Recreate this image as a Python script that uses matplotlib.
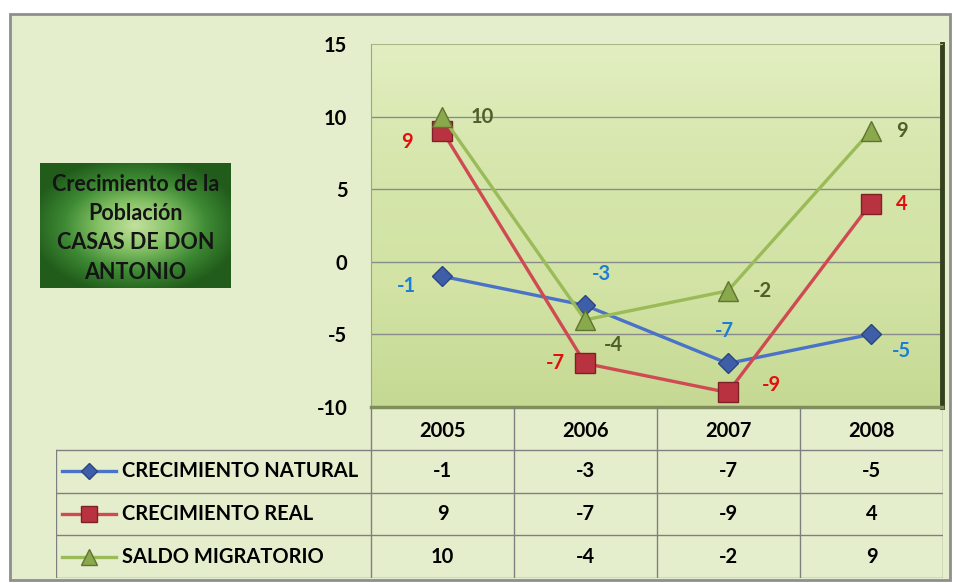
import numpy as np
import matplotlib.pyplot as plt
from matplotlib.patches import Rectangle
from matplotlib.colors import LinearSegmentedColormap

years = ['2005', '2006', '2007', '2008']
series_names = ['CRECIMIENTO NATURAL', 'CRECIMIENTO REAL', 'SALDO MIGRATORIO']
natural = [-1, -3, -7, -5]
real = [9, -7, -9, 4]
migratorio = [10, -4, -2, 9]
y_ticks = [-10, -5, 0, 5, 10, 15]
title_lines = ['Crecimiento de la', 'Población', 'CASAS DE DON', 'ANTONIO']

# styles
line_colors = ['#4A72C6', '#CF4A52', '#9BBB59']
marker_face = ['#3E5FA8', '#B8333F', '#8AA84C']
marker_edge = ['#2C4580', '#7E2028', '#5E7530']
label_colors = ['#1C7ED6', '#E01010', '#4F5F2A']
markers = ['D', 's', '^']
marker_sizes = [10, 14, 14]
# label offsets in pixels (dx, dy) for each series / point
label_offsets = [
    [(-36, -10), (16, 31), (-4, 32), (31, -17)],
    [(-35, -11), (-30, 0), (44, 7), (31, 0)],
    [(40, 0), (28, -25), (35, 0), (31, 0)],
]

plt.rcParams['font.family'] = ['Lato', 'DejaVu Sans']
plt.rcParams['font.weight'] = 'bold'
plt.rcParams['axes.unicode_minus'] = False

W, H = 958, 583
FS = 14.5


def fr(x0, y0, x1, y1):
    return [x0 / W, 1 - y1 / H, (x1 - x0) / W, (y1 - y0) / H]


fig = plt.figure(figsize=(W / 100, H / 100), dpi=100)
fig.patch.set_facecolor('white')

# outer frame
bgax = fig.add_axes([0, 0, 1, 1], zorder=-10)
bgax.set_xlim(0, W)
bgax.set_ylim(H, 0)
bgax.axis('off')
bgax.add_patch(Rectangle((10, 14), 940, 566, fc='#E5EECC', ec='#8E8E8E', lw=2))

# title box with radial shading
tax = fig.add_axes(fr(40, 163, 231, 288))
gx, gy = np.meshgrid(np.linspace(-1, 1, 200), np.linspace(-1, 1, 120))
rad = np.clip(np.sqrt(gx ** 2 * 0.8 + gy ** 2 * 0.8), 0, 1)
green_cmap = LinearSegmentedColormap.from_list('g', ['#C2E09C', '#86C266', '#3E8A34', '#215C1B'])
tax.imshow(rad, cmap=green_cmap, aspect='auto', extent=(0, 1, 0, 1))
tax.set_xlim(0, 1)
tax.set_ylim(0, 1)
tax.axis('off')
for i, t in enumerate(title_lines):
    tax.text(0.5, 0.83 - i * 0.235, t, ha='center', va='center', fontsize=15.5,
             fontweight='bold', color='#141414')

# main plot
ax = fig.add_axes(fr(371, 44, 942, 407))
x = np.arange(len(years))
ax.set_xlim(-0.5, len(years) - 0.5)
ax.set_ylim(min(y_ticks), max(y_ticks))
bg = np.linspace(0, 1, 100).reshape(-1, 1)
bg_cmap = LinearSegmentedColormap.from_list('bg', ['#C6D993', '#D2E3A5', '#D6E6AC', '#E2EEC0'])
ax.imshow(bg, cmap=bg_cmap, aspect='auto', extent=(-0.5, len(years) - 0.5, min(y_ticks), max(y_ticks)),
          origin='lower', zorder=0)
ax.set_yticks(y_ticks)
ax.set_xticks([])
ax.tick_params(axis='y', length=0, pad=17, labelsize=FS)
for t in ax.get_yticklabels():
    t.set_fontweight('bold')
for v in y_ticks[1:-1]:
    ax.axhline(v, color='#8A8A8A', lw=1, zorder=1)
ax.spines['top'].set_color('#A9B884')
ax.spines['left'].set_color('#9AA87A')
ax.spines['bottom'].set_color('#7F8D5C')
ax.spines['bottom'].set_linewidth(2.5)
ax.spines['right'].set_color('#34401E')
ax.spines['right'].set_linewidth(3.5)

all_series = [natural, real, migratorio]
for k, vals in enumerate(all_series):
    ax.plot(x, vals, color=line_colors[k], lw=2.4, marker=markers[k],
            markersize=marker_sizes[k], markerfacecolor=marker_face[k],
            markeredgecolor=marker_edge[k], markeredgewidth=1, zorder=3 + k,
            clip_on=False)
    for i, v in enumerate(vals):
        dx, dy = label_offsets[k][i]
        ax.annotate(str(v), (x[i], v), xytext=(dx, dy), textcoords='offset pixels',
                    ha='center', va='center', fontsize=FS, fontweight='bold',
                    color=label_colors[k], zorder=6)

# data table
left_units = (371 - 56) / 143.0
tb = fig.add_axes(fr(56, 407, 943, 578))
tb.set_xlim(-0.5 - left_units, len(years) - 0.5)
tb.set_ylim(4, 0)
tb.axis('off')
grid_c = '#7F7F7F'
for c in range(len(years) + 1):
    tb.plot([c - 0.5, c - 0.5], [0, 4], color=grid_c, lw=1)
for r in range(1, 5):
    tb.plot([-0.5 - left_units, len(years) - 0.5], [r, r], color=grid_c, lw=1)
tb.plot([-0.5 - left_units, -0.5 - left_units], [1, 4], color=grid_c, lw=1)

for i, yr in enumerate(years):
    tb.text(i, 0.55, yr, ha='center', va='center', fontsize=FS, fontweight='bold')
for k, vals in enumerate(all_series):
    row = k + 1.5
    key_x0 = -0.5 - left_units + 0.04
    tb.plot([key_x0, key_x0 + 0.38], [row, row], color=line_colors[k], lw=2.4)
    tb.plot([key_x0 + 0.19], [row], marker=markers[k], markersize=marker_sizes[k] - 2,
            markerfacecolor=marker_face[k], markeredgecolor=marker_edge[k])
    tb.text(key_x0 + 0.42, row, series_names[k], ha='left', va='center',
            fontsize=FS, fontweight='bold')
    for i, v in enumerate(vals):
        tb.text(i, row, str(v), ha='center', va='center', fontsize=FS, fontweight='bold')

fig.savefig('out.png', dpi=100, facecolor=fig.get_facecolor())
